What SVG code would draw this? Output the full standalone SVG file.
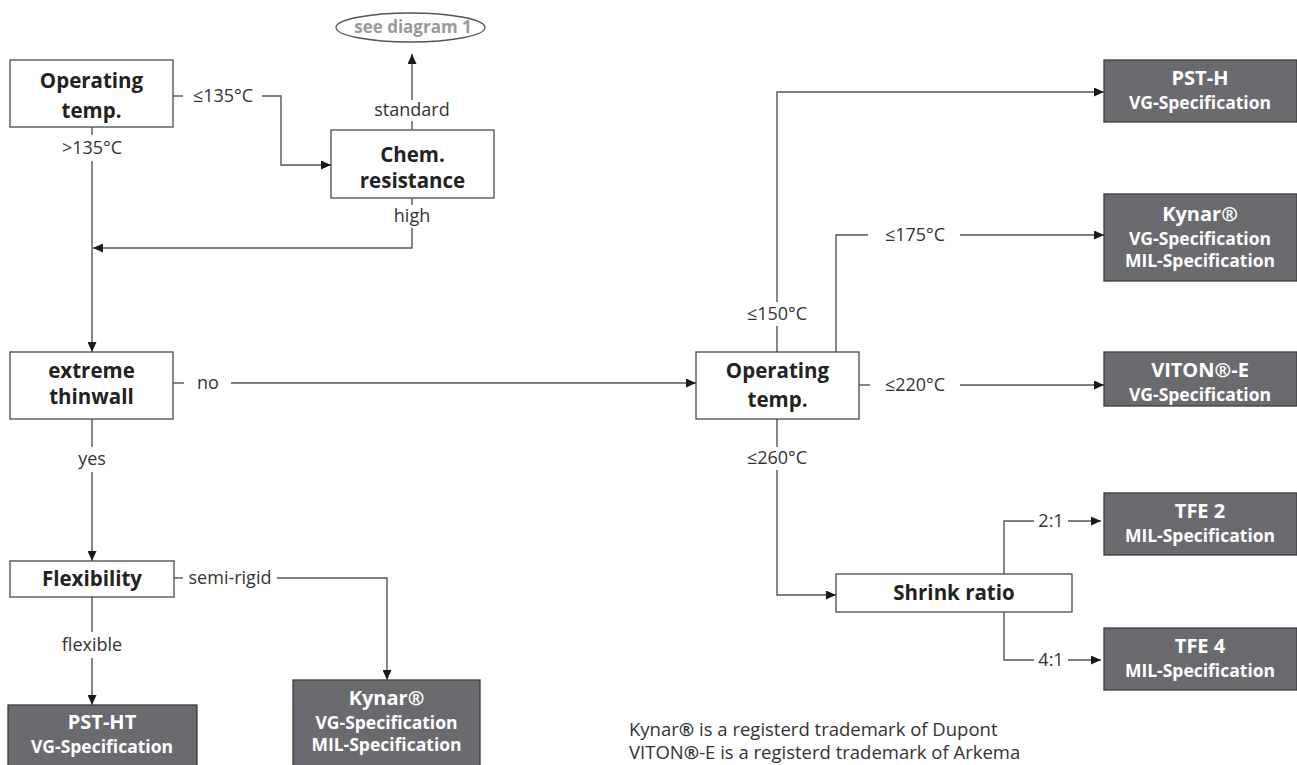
<svg xmlns="http://www.w3.org/2000/svg" width="1297" height="765" viewBox="0 0 1297 765">
<defs>
<marker id="arr" markerUnits="userSpaceOnUse" markerWidth="11" markerHeight="9" refX="10" refY="4.5" orient="auto">
<path d="M0,0 L10,4.5 L0,9 z" fill="#1a1a1a"/>
</marker>
</defs>
<style>
.bg{fill:#ffffff}
.q rect{fill:#ffffff;stroke:#4a4a4a;stroke-width:1.3}
.q text{font-family:"Open Sans","Liberation Sans",sans-serif;font-weight:bold;font-size:20.5px;fill:#222;text-anchor:middle}
.r rect{fill:#6a6b6f;stroke:#3c3c3c;stroke-width:1.3}
.r text{font-family:"Open Sans","Liberation Sans",sans-serif;font-weight:bold;font-size:17.5px;fill:#ffffff;text-anchor:middle}
.r text.t{font-size:20px}
.c path{fill:none;stroke:#555;stroke-width:1.4}
.c path.a{marker-end:url(#arr)}
.lbl{font-family:"Open Sans","Liberation Sans",sans-serif;font-size:18px;fill:#333;text-anchor:middle}
.note{font-family:"Open Sans","Liberation Sans",sans-serif;font-size:18.5px;fill:#333}
</style>
<rect class="bg" x="0" y="0" width="1297" height="765"/>

<g id="connectors" class="c">
<path d="M173,96 H183"/>
<path class="a" d="M262,96 H281 V165 H331"/>
<path d="M92,127 V135"/>
<path class="a" d="M92,161 V352"/>
<path d="M412,130 V121"/>
<path class="a" d="M412,100 V54"/>
<path d="M412,198 V205"/>
<path class="a" d="M412,228 V248 H93"/>
<path d="M173,383 H184"/>
<path class="a" d="M231,383 H696"/>
<path d="M92,419 V447"/>
<path class="a" d="M92,472 V561"/>
<path d="M174,578 H183"/>
<path class="a" d="M277,578 H387 V680"/>
<path d="M92,597 V632"/>
<path class="a" d="M92,658 V705"/>
<path d="M777,352 V326"/>
<path class="a" d="M777,302 V92 H1104"/>
<path d="M836,352 V235 H868"/>
<path class="a" d="M960,235 H1104"/>
<path d="M859,385 H870"/>
<path class="a" d="M960,385 H1104"/>
<path d="M777,419 V447"/>
<path class="a" d="M777,470 V595 H836"/>
<path d="M1004,574 V521 H1034"/>
<path class="a" d="M1068,521 H1101"/>
<path d="M1004,612 V660 H1034"/>
<path class="a" d="M1068,660 H1101"/>
</g>

<g id="labels">
<text class="lbl" x="223" y="102">≤135°C</text>
<text class="lbl" x="92" y="154">&gt;135°C</text>
<text class="lbl" x="412" y="116">standard</text>
<text class="lbl" x="412" y="222">high</text>
<text class="lbl" x="208" y="389">no</text>
<text class="lbl" x="92" y="465">yes</text>
<text class="lbl" x="230" y="584">semi-rigid</text>
<text class="lbl" x="92" y="651">flexible</text>
<text class="lbl" x="777" y="320">≤150°C</text>
<text class="lbl" x="915" y="241">≤175°C</text>
<text class="lbl" x="915" y="391">≤220°C</text>
<text class="lbl" x="777" y="464">≤260°C</text>
<text class="lbl" x="1051" y="527">2:1</text>
<text class="lbl" x="1051" y="666">4:1</text>
</g>

<g id="see-diagram-1">
<ellipse cx="410.5" cy="27.5" rx="74.5" ry="14.5" fill="#fff" stroke="#555" stroke-width="1.3"/>
<text x="413" y="33" style="font-family:'Open Sans','Liberation Sans',sans-serif;font-weight:bold;font-size:17px;fill:#9a9a9a;text-anchor:middle">see diagram 1</text>
</g>

<g id="op-temp-1" class="q">
<rect x="10" y="60" width="163" height="67"/>
<text x="91.5" y="88">Operating</text>
<text x="91.5" y="118">temp.</text>
</g>

<g id="chem-resistance" class="q">
<rect x="331" y="130" width="163" height="68"/>
<text x="412.5" y="162">Chem.</text>
<text x="412.5" y="188">resistance</text>
</g>

<g id="extreme-thinwall" class="q">
<rect x="10" y="352" width="163" height="67"/>
<text x="91.5" y="378">extreme</text>
<text x="91.5" y="404">thinwall</text>
</g>

<g id="flexibility" class="q">
<rect x="10" y="561" width="164" height="36"/>
<text x="92" y="586">Flexibility</text>
</g>

<g id="pst-ht" class="r">
<rect x="8" y="705" width="189" height="70"/>
<text class="t" x="102" y="729">PST-HT</text>
<text x="102" y="753">VG-Specification</text>
</g>

<g id="kynar-left" class="r">
<rect x="293" y="680" width="187" height="95"/>
<text class="t" x="386.5" y="705">Kynar®</text>
<text x="386.5" y="729">VG-Specification</text>
<text x="386.5" y="751">MIL-Specification</text>
</g>

<g id="op-temp-2" class="q">
<rect x="696" y="352" width="163" height="67"/>
<text x="777.5" y="378">Operating</text>
<text x="777.5" y="407">temp.</text>
</g>

<g id="pst-h" class="r">
<rect x="1104" y="60" width="193" height="62"/>
<text class="t" x="1200" y="85">PST-H</text>
<text x="1200" y="109">VG-Specification</text>
</g>

<g id="kynar-right" class="r">
<rect x="1104" y="194" width="193" height="87"/>
<text class="t" x="1200" y="221">Kynar®</text>
<text x="1200" y="245">VG-Specification</text>
<text x="1200" y="267">MIL-Specification</text>
</g>

<g id="viton-e" class="r">
<rect x="1104" y="352" width="193" height="54"/>
<text class="t" x="1200" y="377">VITON®-E</text>
<text x="1200" y="401">VG-Specification</text>
</g>

<g id="shrink-ratio" class="q">
<rect x="836" y="574" width="236" height="38"/>
<text x="954" y="600">Shrink ratio</text>
</g>

<g id="tfe-2" class="r">
<rect x="1104" y="493" width="193" height="62"/>
<text class="t" x="1200" y="518">TFE 2</text>
<text x="1200" y="542">MIL-Specification</text>
</g>

<g id="tfe-4" class="r">
<rect x="1104" y="628" width="193" height="62"/>
<text class="t" x="1200" y="653">TFE 4</text>
<text x="1200" y="677">MIL-Specification</text>
</g>

<g id="footnote">
<text class="note" x="629" y="736">Kynar<tspan font-weight="bold">®</tspan> is a registerd trademark of Dupont</text>
<text class="note" x="629" y="759">VITON<tspan font-weight="bold">®</tspan>-E is a registerd trademark of Arkema</text>
</g>
</svg>
